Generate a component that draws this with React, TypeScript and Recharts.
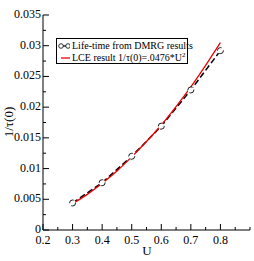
import * as React from "react"
import { ComposedChart, Line, XAxis, YAxis } from "recharts"

// DMRG life-time points
const dmrgU = [0.3, 0.4, 0.5, 0.6, 0.7, 0.8]
const dmrgRate = [0.0044, 0.0077, 0.012, 0.0169, 0.0228, 0.0292]

// LCE curve
const lceU = [0.3, 0.35, 0.4, 0.45, 0.5, 0.55, 0.6, 0.65, 0.7, 0.75, 0.8]
const lceRate = [0.0043, 0.0058, 0.0076, 0.0096, 0.0119, 0.0144, 0.0171, 0.0201, 0.0233, 0.0268, 0.0305]

const xTicks = [0.2, 0.25, 0.3, 0.35, 0.4, 0.45, 0.5, 0.55, 0.6, 0.65, 0.7, 0.75, 0.8, 0.85, 0.9]
const xLabels: Record<string, string> = { "0.2": "0.2", "0.3": "0.3", "0.4": "0.4", "0.5": "0.5", "0.6": "0.6", "0.7": "0.7", "0.8": "0.8" }
const yTicks = [0, 0.0025, 0.005, 0.0075, 0.01, 0.0125, 0.015, 0.0175, 0.02, 0.0225, 0.025, 0.0275, 0.03, 0.0325, 0.035]
const yLabels: Record<string, string> = { "0": "0", "0.005": "0.005", "0.01": "0.01", "0.015": "0.015", "0.02": "0.02", "0.025": "0.025", "0.03": "0.03", "0.035": "0.035" }

const dmrg = dmrgU.map((u, i) => ({ u, v: dmrgRate[i] }))
const lce = lceU.map((u, i) => ({ u, v: lceRate[i] }))

const FONT = "'Liberation Serif', 'Times New Roman', serif"

const key = (v: number) => String(+v.toFixed(4))

function makeTick(side: "bottom" | "top" | "left" | "right") {
  return (props: any) => {
    const { x, y, payload } = props
    const v = payload.value
    const horiz = side === "bottom" || side === "top"
    const label = horiz ? xLabels[key(v)] : yLabels[key(v)]
    const len = label ? 6 : 3
    let line
    if (side === "bottom") line = <line x1={x} y1={y} x2={x} y2={y - len} stroke="#000" />
    else if (side === "top") line = <line x1={x} y1={y} x2={x} y2={y + len} stroke="#000" />
    else if (side === "left") line = <line x1={x} y1={y} x2={x + len} y2={y} stroke="#000" />
    else line = <line x1={x} y1={y} x2={x - len} y2={y} stroke="#000" />
    return (
      <g>
        {line}
        {label && side === "bottom" && (
          <text x={x} y={y + 14} textAnchor="middle" fontSize={12} fontFamily={FONT} fill="#000">{label}</text>
        )}
        {label && side === "left" && (
          <text x={x - 2} y={y + 3} textAnchor="end" fontSize={12} fontFamily={FONT} fill="#000">{label}</text>
        )}
      </g>
    )
  }
}

function LegendBox() {
  return (
    <div style={{ position: "absolute", left: 56, top: 38, width: 132, height: 26, border: "1px solid #000", background: "#fff", boxSizing: "border-box", padding: "1px 0 0 1px", fontFamily: FONT, fontSize: 10, lineHeight: "12px" }}>
      <div style={{ display: "flex", alignItems: "center", whiteSpace: "nowrap" }}>
        <svg width={12} height={10} style={{ marginRight: 2, flex: "none" }}>
          <line x1={2} y1={5} x2={10} y2={5} stroke="#000" strokeWidth={1.2} />
          <circle cx={3} cy={5} r={2.3} fill="#fff" stroke="#000" strokeWidth={0.8} />
          <circle cx={10} cy={5} r={2.3} fill="#fff" stroke="#000" strokeWidth={0.8} />
        </svg>
        <span>Life-time from DMRG results</span>
      </div>
      <div style={{ display: "flex", alignItems: "center", whiteSpace: "nowrap" }}>
        <svg width={12} height={10} style={{ marginRight: 2, flex: "none" }}>
          <line x1={3} y1={5} x2={12} y2={5} stroke="#e00" strokeWidth={1.3} />
        </svg>
        <span>LCE result 1/τ(0)=.0476*U<sup style={{ fontSize: 7, verticalAlign: "4px", lineHeight: 0 }}>2</sup></span>
      </div>
    </div>
  )
}

export default function App() {
  return (
    <div style={{ width: 254, height: 261, background: "#fff", position: "relative" }}>
      <style>{"body{margin:0}"}</style>
      <ComposedChart width={254} height={261} margin={{ top: 15, right: 4, left: 0, bottom: 0 }}>
        <XAxis xAxisId="b" type="number" dataKey="u" domain={[0.2, 0.9]} ticks={xTicks} interval={0}
          height={31} tickSize={0} tickMargin={0} tick={makeTick("bottom")} stroke="#000" allowDataOverflow />
        <XAxis xAxisId="t" orientation="top" type="number" dataKey="u" domain={[0.2, 0.9]} ticks={xTicks} interval={0}
          height={0} tickSize={0} tickMargin={0} tick={makeTick("top")} stroke="#000" allowDataOverflow />
        <YAxis yAxisId="l" type="number" dataKey="v" domain={[0, 0.035]} ticks={yTicks} interval={0}
          width={43} tickSize={0} tickMargin={0} tick={makeTick("left")} stroke="#000" allowDataOverflow />
        <YAxis yAxisId="r" orientation="right" type="number" dataKey="v" domain={[0, 0.035]} ticks={yTicks} interval={0}
          width={0} tickSize={0} tickMargin={0} tick={makeTick("right")} stroke="#000" allowDataOverflow />
        <Line xAxisId="b" yAxisId="l" data={dmrg} dataKey="v" type="linear" stroke="#000" strokeWidth={1.5}
          strokeDasharray="6 3" dot={{ r: 3, fill: "#fff", stroke: "#000", strokeWidth: 0.9 }} isAnimationActive={false} />
        <Line xAxisId="b" yAxisId="l" data={lce} dataKey="v" type="monotone" stroke="#e00" strokeWidth={1.3}
          dot={false} isAnimationActive={false} />
      </ComposedChart>
      <LegendBox />
      <div style={{ position: "absolute", left: 147, top: 244, transform: "translateX(-50%)", fontFamily: FONT, fontSize: 13, lineHeight: "14px" }}>U</div>
      <div style={{ position: "absolute", left: 9, top: 122, transform: "translate(-50%,-50%) rotate(-90deg)", fontFamily: FONT, fontSize: 13, whiteSpace: "nowrap" }}>1/τ(0)</div>
    </div>
  )
}
